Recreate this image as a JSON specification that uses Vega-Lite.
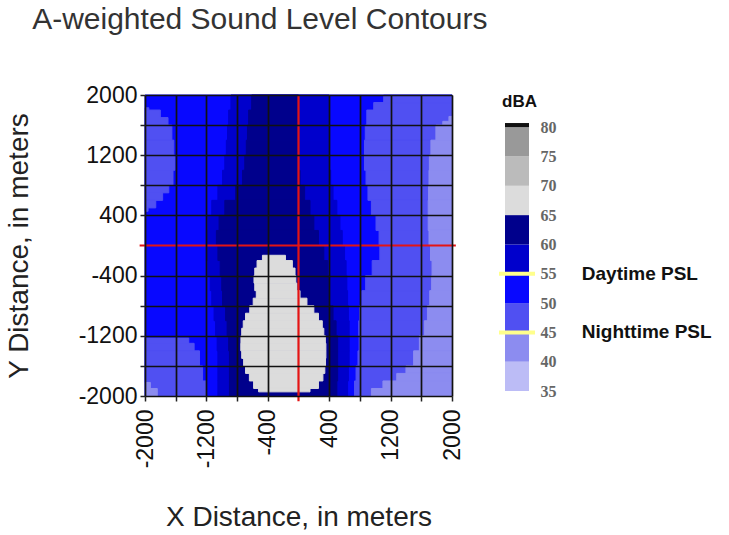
{
  "$schema": "https://vega.github.io/schema/vega-lite/v6.json",
  "background": "white",
  "padding": {"left": 5, "top": 5, "right": 5, "bottom": 5},
  "title": {"text": "A-weighted Sound Level Contours", "anchor": "start", "fontSize": 30, "fontWeight": "normal", "color": "#333", "font": "Liberation Sans", "dx": 27, "offset": 49},
  "config": {"view": {"stroke": null}, "font": "Liberation Sans"},
  "datasets": {
    "heat": [
      {"x": -2000, "x2": 2000, "y": -2000, "y2": 2000, "dba": 50},
      {"x": -2000, "x2": -1950, "y": 1800, "y2": 1830, "dba": 45},
      {"x": -2000, "x2": -1800, "y": 1700, "y2": 1800, "dba": 45},
      {"x": -2000, "x2": -1700, "y": 1600, "y2": 1700, "dba": 45},
      {"x": -2000, "x2": -1650, "y": 1400, "y2": 1600, "dba": 45},
      {"x": -2000, "x2": -1625, "y": 1200, "y2": 1400, "dba": 45},
      {"x": -2000, "x2": -1610, "y": 1000, "y2": 1200, "dba": 45},
      {"x": -2000, "x2": -1635, "y": 800, "y2": 1000, "dba": 45},
      {"x": -2000, "x2": -1690, "y": 700, "y2": 800, "dba": 45},
      {"x": -2000, "x2": -1770, "y": 600, "y2": 700, "dba": 45},
      {"x": -2000, "x2": -1860, "y": 500, "y2": 600, "dba": 45},
      {"x": -2000, "x2": -1960, "y": 455, "y2": 500, "dba": 45},
      {"x": -2000, "x2": -1430, "y": -1300, "y2": -1230, "dba": 45},
      {"x": -2000, "x2": -1360, "y": -1400, "y2": -1300, "dba": 45},
      {"x": -2000, "x2": -1290, "y": -1600, "y2": -1400, "dba": 45},
      {"x": -2000, "x2": -1250, "y": -1800, "y2": -1600, "dba": 45},
      {"x": -2000, "x2": -1200, "y": -2000, "y2": -1800, "dba": 45},
      {"x": -2000, "x2": -1930, "y": -1900, "y2": -1820, "dba": 40},
      {"x": -2000, "x2": -1840, "y": -2000, "y2": -1900, "dba": 40},
      {"x": 1110, "x2": 2000, "y": 1900, "y2": 2000, "dba": 45},
      {"x": 980, "x2": 2000, "y": 1800, "y2": 1900, "dba": 45},
      {"x": 890, "x2": 2000, "y": 1600, "y2": 1800, "dba": 45},
      {"x": 870, "x2": 2000, "y": 1400, "y2": 1600, "dba": 45},
      {"x": 860, "x2": 2000, "y": 1200, "y2": 1400, "dba": 45},
      {"x": 860, "x2": 2000, "y": 1000, "y2": 1200, "dba": 45},
      {"x": 880, "x2": 2000, "y": 800, "y2": 1000, "dba": 45},
      {"x": 905, "x2": 2000, "y": 600, "y2": 800, "dba": 45},
      {"x": 950, "x2": 2000, "y": 400, "y2": 600, "dba": 45},
      {"x": 1010, "x2": 2000, "y": 200, "y2": 400, "dba": 45},
      {"x": 1050, "x2": 2000, "y": 0, "y2": 200, "dba": 45},
      {"x": 1060, "x2": 2000, "y": -200, "y2": 0, "dba": 45},
      {"x": 960, "x2": 2000, "y": -400, "y2": -200, "dba": 45},
      {"x": 875, "x2": 2000, "y": -600, "y2": -400, "dba": 45},
      {"x": 825, "x2": 2000, "y": -800, "y2": -600, "dba": 45},
      {"x": 795, "x2": 2000, "y": -1000, "y2": -800, "dba": 45},
      {"x": 785, "x2": 2000, "y": -1200, "y2": -1000, "dba": 45},
      {"x": 790, "x2": 2000, "y": -1400, "y2": -1200, "dba": 45},
      {"x": 775, "x2": 2000, "y": -1600, "y2": -1400, "dba": 45},
      {"x": 750, "x2": 2000, "y": -1800, "y2": -1600, "dba": 45},
      {"x": 730, "x2": 2000, "y": -2000, "y2": -1800, "dba": 45},
      {"x": 1960, "x2": 2000, "y": 1650, "y2": 1715, "dba": 40},
      {"x": 1880, "x2": 2000, "y": 1600, "y2": 1650, "dba": 40},
      {"x": 1790, "x2": 2000, "y": 1400, "y2": 1600, "dba": 40},
      {"x": 1725, "x2": 2000, "y": 1200, "y2": 1400, "dba": 40},
      {"x": 1705, "x2": 2000, "y": 1000, "y2": 1200, "dba": 40},
      {"x": 1700, "x2": 2000, "y": 800, "y2": 1000, "dba": 40},
      {"x": 1695, "x2": 2000, "y": 600, "y2": 800, "dba": 40},
      {"x": 1690, "x2": 2000, "y": 400, "y2": 600, "dba": 40},
      {"x": 1690, "x2": 2000, "y": 200, "y2": 400, "dba": 40},
      {"x": 1700, "x2": 2000, "y": 0, "y2": 200, "dba": 40},
      {"x": 1720, "x2": 2000, "y": -200, "y2": 0, "dba": 40},
      {"x": 1740, "x2": 2000, "y": -400, "y2": -200, "dba": 40},
      {"x": 1735, "x2": 2000, "y": -600, "y2": -400, "dba": 40},
      {"x": 1710, "x2": 2000, "y": -800, "y2": -600, "dba": 40},
      {"x": 1680, "x2": 2000, "y": -1000, "y2": -800, "dba": 40},
      {"x": 1640, "x2": 2000, "y": -1200, "y2": -1000, "dba": 40},
      {"x": 1575, "x2": 2000, "y": -1400, "y2": -1200, "dba": 40},
      {"x": 1500, "x2": 2000, "y": -1600, "y2": -1400, "dba": 40},
      {"x": 1400, "x2": 2000, "y": -1700, "y2": -1600, "dba": 40},
      {"x": 1280, "x2": 2000, "y": -1800, "y2": -1700, "dba": 40},
      {"x": 1100, "x2": 2000, "y": -1900, "y2": -1800, "dba": 40},
      {"x": 950, "x2": 2000, "y": -2000, "y2": -1900, "dba": 40},
      {"x": -880, "x2": 400, "y": 1800, "y2": 2000, "dba": 55},
      {"x": -910, "x2": 400, "y": 1600, "y2": 1800, "dba": 55},
      {"x": -925, "x2": 400, "y": 1400, "y2": 1600, "dba": 55},
      {"x": -940, "x2": 400, "y": 1200, "y2": 1400, "dba": 55},
      {"x": -960, "x2": 400, "y": 1000, "y2": 1200, "dba": 55},
      {"x": -990, "x2": 420, "y": 800, "y2": 1000, "dba": 55},
      {"x": -1050, "x2": 450, "y": 600, "y2": 800, "dba": 55},
      {"x": -1130, "x2": 500, "y": 400, "y2": 600, "dba": 55},
      {"x": -1180, "x2": 540, "y": 200, "y2": 400, "dba": 55},
      {"x": -1200, "x2": 570, "y": 0, "y2": 200, "dba": 55},
      {"x": -1200, "x2": 600, "y": -200, "y2": 0, "dba": 55},
      {"x": -1180, "x2": 620, "y": -400, "y2": -200, "dba": 55},
      {"x": -1150, "x2": 630, "y": -600, "y2": -400, "dba": 55},
      {"x": -1130, "x2": 640, "y": -800, "y2": -600, "dba": 55},
      {"x": -1100, "x2": 650, "y": -1000, "y2": -800, "dba": 55},
      {"x": -1080, "x2": 660, "y": -1200, "y2": -1000, "dba": 55},
      {"x": -1060, "x2": 660, "y": -1400, "y2": -1200, "dba": 55},
      {"x": -1050, "x2": 660, "y": -1600, "y2": -1400, "dba": 55},
      {"x": -1050, "x2": 650, "y": -1800, "y2": -1600, "dba": 55},
      {"x": -1050, "x2": 640, "y": -2000, "y2": -1800, "dba": 55},
      {"x": -610, "x2": 0, "y": 1800, "y2": 2000, "dba": 60},
      {"x": -650, "x2": 0, "y": 1600, "y2": 1800, "dba": 60},
      {"x": -665, "x2": 0, "y": 1400, "y2": 1600, "dba": 60},
      {"x": -680, "x2": 0, "y": 1200, "y2": 1400, "dba": 60},
      {"x": -700, "x2": 0, "y": 1000, "y2": 1200, "dba": 60},
      {"x": -730, "x2": 20, "y": 800, "y2": 1000, "dba": 60},
      {"x": -820, "x2": 80, "y": 600, "y2": 800, "dba": 60},
      {"x": -960, "x2": 150, "y": 400, "y2": 600, "dba": 60},
      {"x": -1035, "x2": 200, "y": 200, "y2": 400, "dba": 60},
      {"x": -1070, "x2": 260, "y": 0, "y2": 200, "dba": 60},
      {"x": -1050, "x2": 330, "y": -200, "y2": 0, "dba": 60},
      {"x": -1020, "x2": 380, "y": -400, "y2": -200, "dba": 60},
      {"x": -1000, "x2": 390, "y": -600, "y2": -400, "dba": 60},
      {"x": -990, "x2": 400, "y": -800, "y2": -600, "dba": 60},
      {"x": -950, "x2": 450, "y": -1000, "y2": -800, "dba": 60},
      {"x": -930, "x2": 490, "y": -1200, "y2": -1000, "dba": 60},
      {"x": -910, "x2": 510, "y": -1400, "y2": -1200, "dba": 60},
      {"x": -900, "x2": 510, "y": -1600, "y2": -1400, "dba": 60},
      {"x": -900, "x2": 510, "y": -1800, "y2": -1600, "dba": 60},
      {"x": -900, "x2": 500, "y": -2000, "y2": -1800, "dba": 60},
      {"x": -470, "x2": -170, "y": -200, "y2": -130, "dba": 65},
      {"x": -540, "x2": -80, "y": -300, "y2": -200, "dba": 65},
      {"x": -570, "x2": -45, "y": -400, "y2": -300, "dba": 65},
      {"x": -580, "x2": -35, "y": -500, "y2": -400, "dba": 65},
      {"x": -570, "x2": -20, "y": -600, "y2": -500, "dba": 65},
      {"x": -550, "x2": 20, "y": -700, "y2": -600, "dba": 65},
      {"x": -590, "x2": 110, "y": -800, "y2": -700, "dba": 65},
      {"x": -635, "x2": 200, "y": -900, "y2": -800, "dba": 65},
      {"x": -690, "x2": 260, "y": -1000, "y2": -900, "dba": 65},
      {"x": -720, "x2": 310, "y": -1100, "y2": -1000, "dba": 65},
      {"x": -740, "x2": 330, "y": -1200, "y2": -1100, "dba": 65},
      {"x": -750, "x2": 350, "y": -1300, "y2": -1200, "dba": 65},
      {"x": -752, "x2": 357, "y": -1400, "y2": -1300, "dba": 65},
      {"x": -740, "x2": 357, "y": -1500, "y2": -1400, "dba": 65},
      {"x": -715, "x2": 352, "y": -1600, "y2": -1500, "dba": 65},
      {"x": -690, "x2": 343, "y": -1700, "y2": -1600, "dba": 65},
      {"x": -640, "x2": 318, "y": -1800, "y2": -1700, "dba": 65},
      {"x": -585, "x2": 260, "y": -1900, "y2": -1800, "dba": 65},
      {"x": -520, "x2": 150, "y": -1945, "y2": -1900, "dba": 65}
    ],
    "legend": [
      {"dba": 35, "lo": 35, "hi": 40},
      {"dba": 40, "lo": 40, "hi": 45},
      {"dba": 45, "lo": 45, "hi": 50},
      {"dba": 50, "lo": 50, "hi": 55},
      {"dba": 55, "lo": 55, "hi": 60},
      {"dba": 60, "lo": 60, "hi": 65},
      {"dba": 65, "lo": 65, "hi": 70},
      {"dba": 70, "lo": 70, "hi": 75},
      {"dba": 75, "lo": 75, "hi": 80},
      {"dba": 80, "lo": 80, "hi": 80.7}
    ]
  },
  "spacing": 33,
  "hconcat": [
    {
      "width": 307,
      "height": 301,
      "layer": [
        {
          "data": {"name": "heat"},
          "mark": {"type": "rect", "strokeWidth": 1},
          "encoding": {
            "x": {"field": "x", "type": "quantitative",
              "scale": {"domain": [-2000, 2000], "nice": false, "zero": false},
              "axis": {"values": [-2000, -1600, -1200, -800, -400, 400, 800, 1200, 1600, 2000], "tickCount": 20,
                "labelExpr": "(datum.value + 2000) % 800 == 0 ? '' + datum.value : ''",
                "labelAngle": 270, "labelFontSize": 23, "labelColor": "#111", "labelPadding": 8,
                "labelFlush": false, "labelOverlap": false,
                "tickSize": 5, "tickColor": "#222", "tickWidth": 1.5,
                "grid": true, "gridColor": "#111", "gridWidth": 1.7, "gridOpacity": 1,
                "domain": false, "zindex": 1,
                "title": "X Distance, in meters", "titleFontSize": 28, "titleFontWeight": "normal", "titleColor": "#222", "titlePadding": 36}},
            "x2": {"field": "x2"},
            "y": {"field": "y", "type": "quantitative",
              "scale": {"domain": [-2000, 2000], "nice": false, "zero": false},
              "axis": {"values": [-2000, -1600, -1200, -800, -400, 400, 800, 1200, 1600, 2000], "tickCount": 20,
                "labelExpr": "(datum.value + 2000) % 800 == 0 ? '' + datum.value : ''",
                "labelFontSize": 23, "labelColor": "#111", "labelPadding": 3,
                "labelFlush": false, "labelOverlap": false,
                "tickSize": 5, "tickColor": "#222", "tickWidth": 1.5,
                "grid": true, "gridColor": "#111", "gridWidth": 1.7, "gridOpacity": 1,
                "domain": false, "zindex": 1,
                "title": "Y Distance, in meters", "titleFontSize": 28, "titleFontWeight": "normal", "titleColor": "#222", "titlePadding": 45}},
            "y2": {"field": "y2"},
            "color": {"field": "dba", "type": "nominal",
              "scale": {"domain": [35, 40, 45, 50, 55, 60, 65, 70, 75, 80],
                "range": ["#bcbcf6", "#8c8cf0", "#5050f2", "#0808ff", "#0000cc", "#00008c", "#dcdcdc", "#bbbbbb", "#999999", "#111111"]},
              "legend": null},
            "stroke": {"field": "dba", "type": "nominal",
              "scale": {"domain": [35, 40, 45, 50, 55, 60, 65, 70, 75, 80],
                "range": ["#bcbcf6", "#8c8cf0", "#5050f2", "#0808ff", "#0000cc", "#00008c", "#dcdcdc", "#bbbbbb", "#999999", "#111111"]},
              "legend": null}
          }
        },
        {
          "data": {"values": [{}]},
          "mark": {"type": "rule", "color": "#e41414", "strokeWidth": 2.2},
          "encoding": {
            "x": {"datum": 0, "type": "quantitative", "scale": {"domain": [-2000, 2000], "nice": false, "zero": false}},
            "y": {"datum": -2070, "type": "quantitative", "scale": {"domain": [-2000, 2000], "nice": false, "zero": false}},
            "y2": {"datum": 2000}
          }
        },
        {
          "data": {"values": [{}]},
          "mark": {"type": "rule", "color": "#e41414", "strokeWidth": 2.2},
          "encoding": {
            "y": {"datum": 0, "type": "quantitative", "scale": {"domain": [-2000, 2000], "nice": false, "zero": false}},
            "x": {"datum": -2070, "type": "quantitative", "scale": {"domain": [-2000, 2000], "nice": false, "zero": false}},
            "x2": {"datum": 2050}
          }
        }
      ]
    },
    {
      "width": 36,
      "height": 301,
      "layer": [
        {
          "data": {"name": "legend"},
          "mark": {"type": "rect"},
          "encoding": {
            "x": {"datum": 0.5, "type": "quantitative", "scale": {"domain": [0, 3], "nice": false, "zero": false}, "axis": null},
            "x2": {"datum": 2.5},
            "y": {"field": "lo", "type": "quantitative",
              "scale": {"domain": [34.15, 85.48], "nice": false, "zero": false},
              "axis": {"orient": "right", "values": [35, 40, 45, 50, 55, 60, 65, 70, 75, 80], "tickCount": 20,
                "labelFont": "Liberation Serif", "labelFontWeight": "bold", "labelFontSize": 16, "labelColor": "#666",
                "labelOverlap": false, "labelPadding": 5, "ticks": false, "domain": false, "grid": false, "title": null}},
            "y2": {"field": "hi"},
            "color": {"field": "dba", "type": "nominal",
              "scale": {"domain": [35, 40, 45, 50, 55, 60, 65, 70, 75, 80],
                "range": ["#bcbcf6", "#8c8cf0", "#5050f2", "#0808ff", "#0000cc", "#00008c", "#dcdcdc", "#bbbbbb", "#999999", "#111111"]},
              "legend": null}
          }
        },
        {
          "data": {"values": [{"psl": 55}, {"psl": 45}]},
          "mark": {"type": "rule", "color": "#ffff8c", "strokeWidth": 4},
          "encoding": {
            "y": {"field": "psl", "type": "quantitative", "scale": {"domain": [34.15, 85.48], "nice": false, "zero": false}},
            "x": {"datum": 0, "type": "quantitative", "scale": {"domain": [0, 3], "nice": false, "zero": false}},
            "x2": {"datum": 3}
          }
        },
        {
          "data": {"values": [{"label": "Daytime PSL", "psl": 55}, {"label": "Nighttime PSL", "psl": 45}]},
          "mark": {"type": "text", "align": "left", "baseline": "middle", "fontSize": 19, "fontWeight": "bold", "font": "Liberation Sans", "color": "#111"},
          "encoding": {
            "x": {"datum": 6.9, "type": "quantitative", "scale": {"domain": [0, 3], "nice": false, "zero": false}},
            "y": {"field": "psl", "type": "quantitative", "scale": {"domain": [34.15, 85.48], "nice": false, "zero": false}},
            "text": {"field": "label"}
          }
        },
        {
          "data": {"values": [{"label": "dBA"}]},
          "mark": {"type": "text", "align": "left", "baseline": "middle", "fontSize": 17, "fontWeight": "bold", "font": "Liberation Sans", "color": "#111"},
          "encoding": {
            "x": {"datum": 0.25, "type": "quantitative", "scale": {"domain": [0, 3], "nice": false, "zero": false}},
            "y": {"datum": 84.3, "type": "quantitative", "scale": {"domain": [34.15, 85.48], "nice": false, "zero": false}},
            "text": {"field": "label"}
          }
        }
      ]
    }
  ]
}
